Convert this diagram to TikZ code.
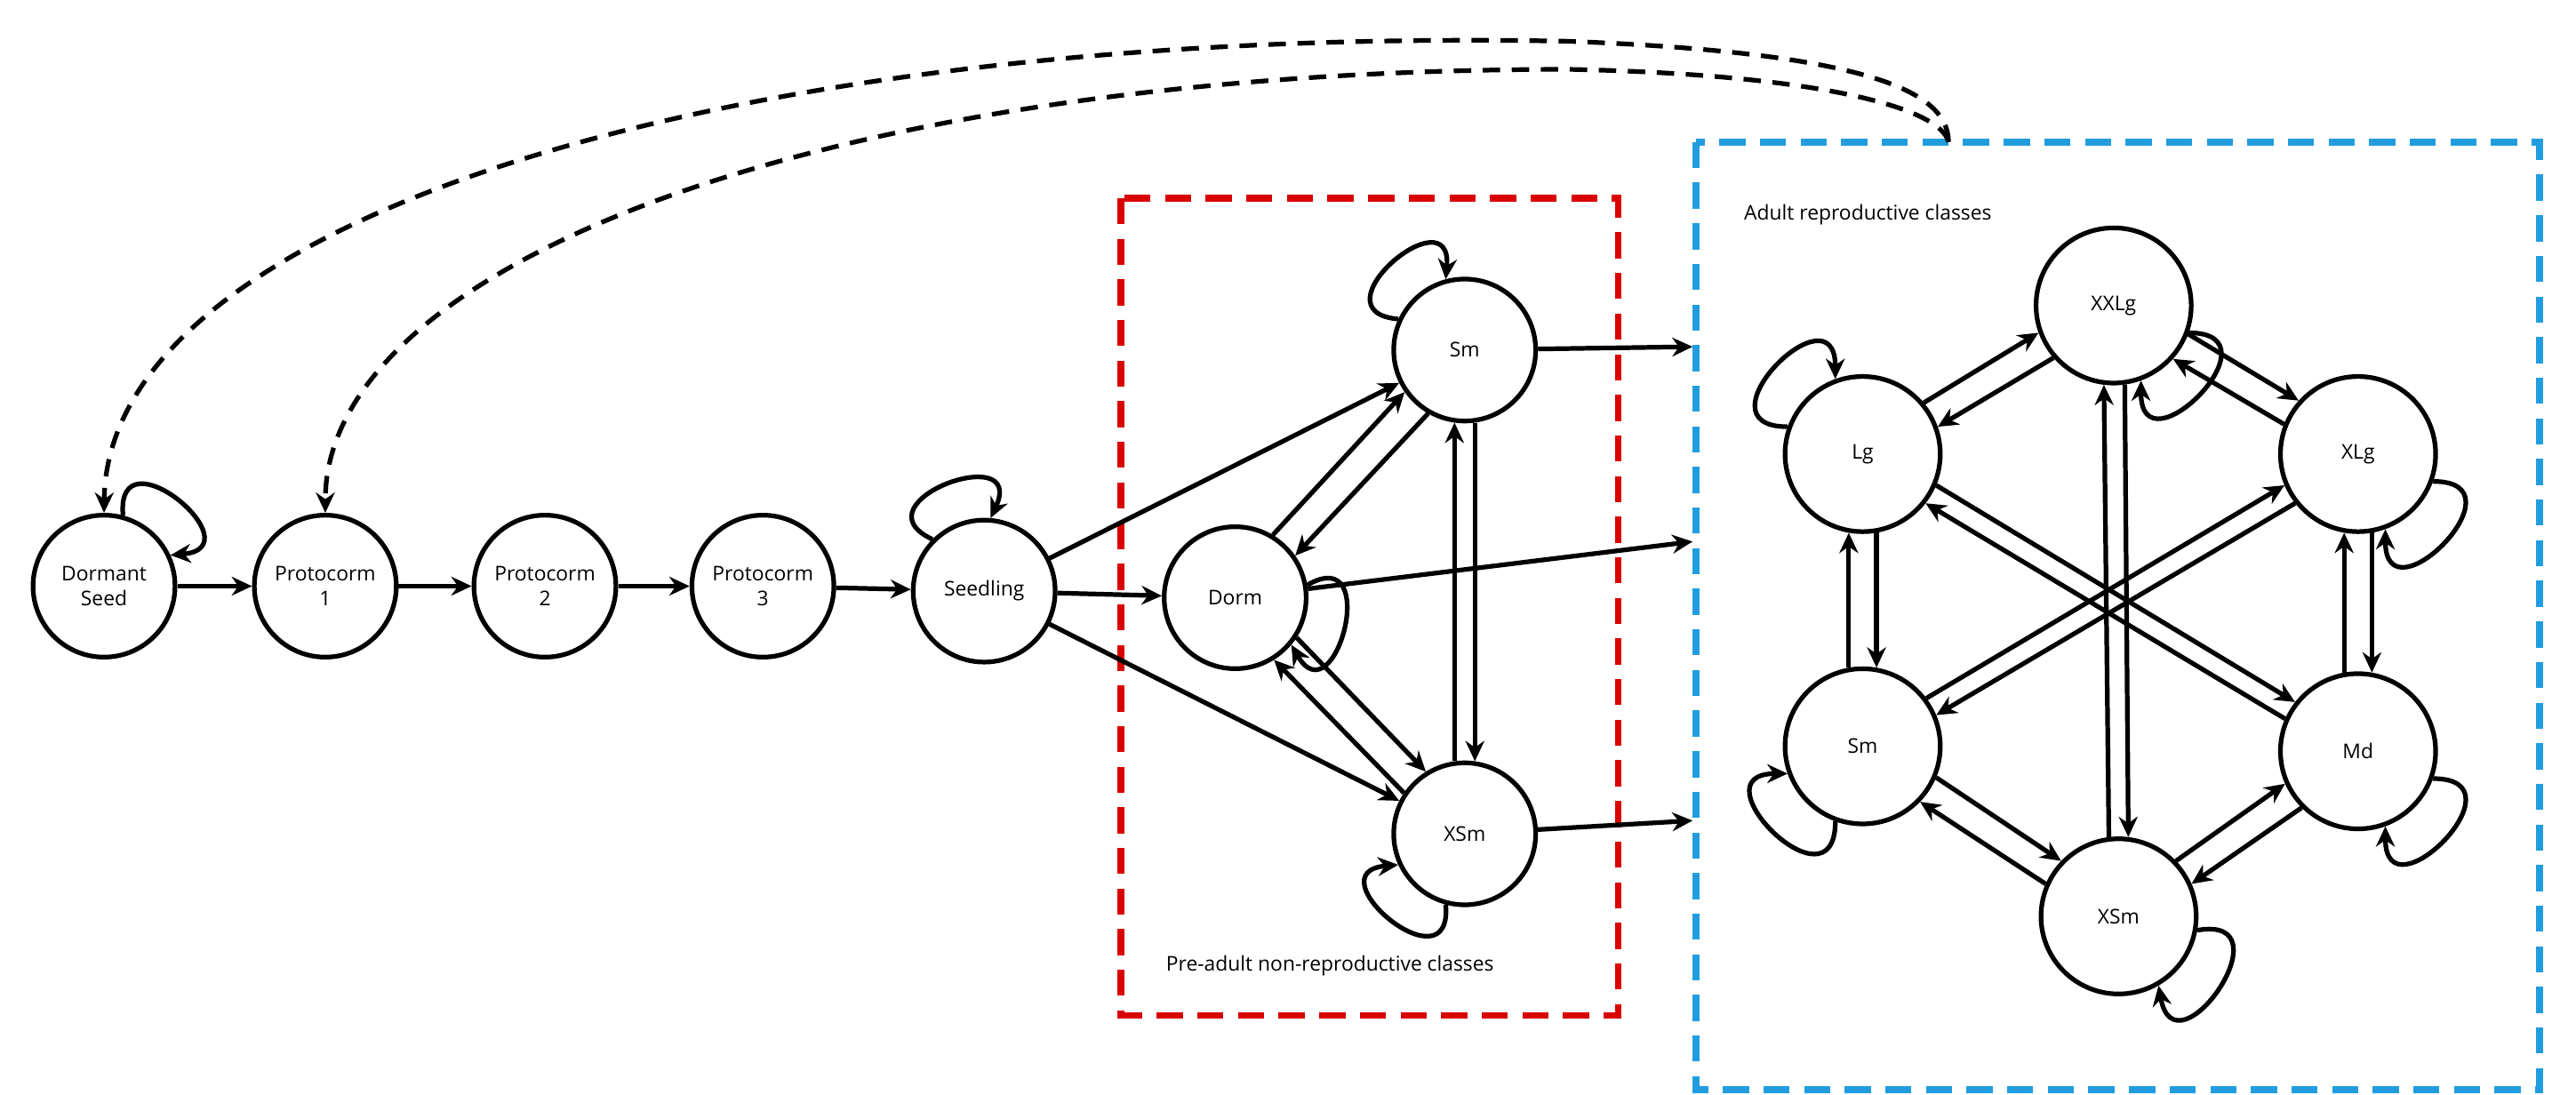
\documentclass[tikz,border=0pt]{standalone}
\usepackage{fontspec}
\setmainfont{Open Sans}
\usetikzlibrary{arrows.meta,calc}
\begin{document}
\begin{tikzpicture}[x=0.02cm,y=-0.02cm,
  st/.style={circle,draw,line width=1.6pt,minimum size=1.72cm,inner sep=0pt,align=center,font=\fontsize{7}{8.5}\selectfont},
  bst/.style={st,minimum size=1.88cm},
  ar/.style={line width=1.6pt,-{Stealth[length=7pt,width=6.5pt]}},
  dar/.style={ar,dashed,dash pattern=on 6pt off 4pt},
  lbl/.style={font=\fontsize{7}{8.5}\selectfont,anchor=west}]
\useasboundingbox (0,0) rectangle (1560,663);
\newcommand{\one}[3][10]{\draw[ar] let \p1=($(#3)-(#2)$), \n1={atan2(\y1,\x1)}, \n2={\n1+#1}, \n3={\n1+180-#1} in (#2.\n2) -- (#3.\n3);}
\newcommand{\dbl}[3][10]{\one[#1]{#2}{#3}\one[#1]{#3}{#2}}
\newcommand{\sloop}[2]{\draw[ar] (#1.{#2+25}) to[out=#2+45,in=#2-45,looseness=3.6] (#1.{#2-25});}
% boxes
\draw[red!85!black,line width=2.4pt,dash pattern=on 9pt off 5pt] (679,120) rectangle (980,615);
\draw[cyan!80!blue!90,line width=2.4pt,dash pattern=on 9pt off 5pt] (1027,86) rectangle (1538,660);
\node[lbl] (la) at (1050,130) {Adult reproductive classes};
\node[lbl] (lp) at (700,585) {Pre-adult non-reproductive classes};
% nodes
\node[st] (ds) at (63,355) {Dormant\\Seed};
\node[st] (p1) at (197,355) {Protocorm\\1};
\node[st] (p2) at (330,355) {Protocorm\\2};
\node[st] (p3) at (462,355) {Protocorm\\3};
\node[st] (se) at (596,358) {Seedling};
\node[st] (do) at (748,362) {Dorm};
\node[st] (sm) at (887,212) {Sm};
\node[st] (xs) at (887,505) {XSm};
\node[bst] (AX) at (1280,185) {XXLg};
\node[bst] (AL) at (1128,275) {Lg};
\node[bst] (AXL) at (1428,275) {XLg};
\node[bst] (AS) at (1128,452) {Sm};
\node[bst] (AM) at (1428,455) {Md};
\node[bst] (AXS) at (1283,555) {XSm};
\coordinate (t1) at (1025,210);
\coordinate (t2) at (1025,328);
\coordinate (t3) at (1025,497);
\coordinate (bt) at (1180,86);
% chain
\draw[ar] (ds) -- (p1); \draw[ar] (p1) -- (p2); \draw[ar] (p2) -- (p3); \draw[ar] (p3) -- (se);
\draw[ar] (se) -- (sm); \draw[ar] (se) -- (do); \draw[ar] (se) -- (xs);
\dbl[12]{do}{sm} \dbl[12]{do}{xs} \dbl[8]{sm}{xs}
\draw[ar] (sm) -- (t1); \draw[ar] (do) -- (t2); \draw[ar] (xs) -- (t3);
% adult
\dbl{AX}{AL} \dbl{AX}{AXL} \dbl{AL}{AS} \dbl{AXL}{AM} \dbl{AS}{AXS} \dbl{AM}{AXS}
\dbl[7]{AX}{AXS} \dbl[7]{AL}{AM} \dbl[7]{AXL}{AS}
% loops
\sloop{ds}{50} \sloop{se}{110} \sloop{sm}{130} \sloop{do}{-15} \sloop{xs}{-130}
\sloop{AX}{-45} \sloop{AL}{135} \sloop{AXL}{-45} \sloop{AS}{-135} \sloop{AM}{-45} \sloop{AXS}{-35}
% dashed
\draw[dar] (bt) .. controls (1180,55) and (1130,32) .. (950,25) .. controls (450,15) and (65,130) .. (ds.north);
\draw[dar] (bt) .. controls (1175,65) and (1100,45) .. (950,42) .. controls (500,42) and (197,160) .. (p1.north);
\end{tikzpicture}
\end{document}
